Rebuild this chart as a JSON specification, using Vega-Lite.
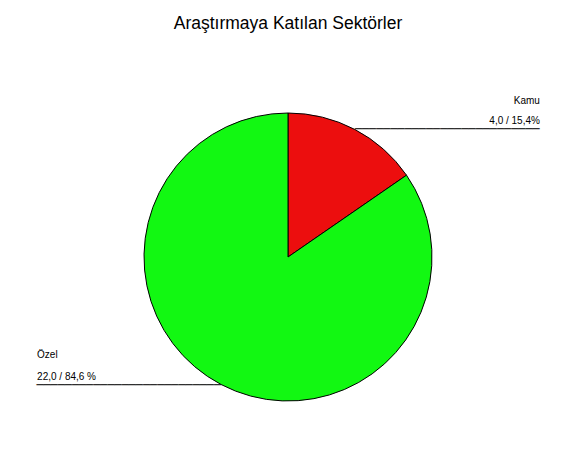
{
  "$schema": "https://vega.github.io/schema/vega-lite/v6.json",
  "description": "Araştırmaya katılan sektörler, pasta grafik.",
  "autosize": "none",
  "width": 576,
  "height": 408,
  "padding": {"top": 53, "left": 0, "right": 0, "bottom": 0},
  "background": "white",
  "title": {
    "text": "Araştırmaya Katılan Sektörler",
    "font": "Liberation Sans",
    "fontSize": 17.5,
    "fontWeight": "normal",
    "color": "black",
    "frame": "group",
    "anchor": "middle",
    "baseline": "alphabetic",
    "offset": 7
  },
  "data": {
    "values": [
      {"Sektor": "Kamu", "Sayi": 4, "Etiket": "4,0 / 15,4%"},
      {"Sektor": "Özel", "Sayi": 22, "Etiket": "22,0 / 84,6 %"}
    ]
  },
  "encoding": {
    "theta": {"field": "Sayi", "type": "quantitative", "stack": true},
    "order": {"field": "Sektor", "sort": "ascending"}
  },
  "layer": [
    {
      "mark": {"type": "arc", "outerRadius": 144, "stroke": "black", "strokeWidth": 1},
      "encoding": {
        "color": {
          "field": "Sektor",
          "type": "nominal",
          "scale": {"domain": ["Kamu", "Özel"], "range": ["#EC0E0E", "#12F812"]},
          "legend": null
        }
      }
    },
    {
      "mark": {"type": "text", "radius": 144, "align": "right", "baseline": "alphabetic", "dx": 185, "dy": -25, "font": "Liberation Sans", "fontSize": 10, "color": "black"},
      "encoding": {"text": {"condition": {"test": "datum.Sektor == 'Kamu'", "field": "Sektor", "type": "nominal"}, "value": ""}}
    },
    {
      "mark": {"type": "text", "radius": 144, "align": "right", "baseline": "alphabetic", "dx": 185, "dy": -5, "font": "Liberation Sans", "fontSize": 10, "color": "black"},
      "encoding": {"text": {"condition": {"test": "datum.Sektor == 'Kamu'", "field": "Etiket", "type": "nominal"}, "value": ""}}
    },
    {
      "mark": {"type": "text", "radius": 144, "align": "left", "baseline": "middle", "font": "DejaVu Sans Mono", "fontSize": 11.8, "color": "black"},
      "encoding": {"text": {"condition": {"test": "datum.Sektor == 'Kamu'", "value": "──────────────────────────"}, "value": ""}}
    },
    {
      "mark": {"type": "text", "radius": 144, "align": "left", "baseline": "alphabetic", "dx": -184, "dy": -27, "font": "Liberation Sans", "fontSize": 10, "color": "black"},
      "encoding": {"text": {"condition": {"test": "datum.Sektor == 'Özel'", "field": "Sektor", "type": "nominal"}, "value": ""}}
    },
    {
      "mark": {"type": "text", "radius": 144, "align": "left", "baseline": "alphabetic", "dx": -184, "dy": -5, "font": "Liberation Sans", "fontSize": 10, "color": "black"},
      "encoding": {"text": {"condition": {"test": "datum.Sektor == 'Özel'", "field": "Etiket", "type": "nominal"}, "value": ""}}
    },
    {
      "mark": {"type": "text", "radius": 144, "align": "right", "baseline": "middle", "font": "DejaVu Sans Mono", "fontSize": 11.8, "color": "black"},
      "encoding": {"text": {"condition": {"test": "datum.Sektor == 'Özel'", "value": "──────────────────────────"}, "value": ""}}
    }
  ],
  "config": {"view": {"stroke": null}}
}
